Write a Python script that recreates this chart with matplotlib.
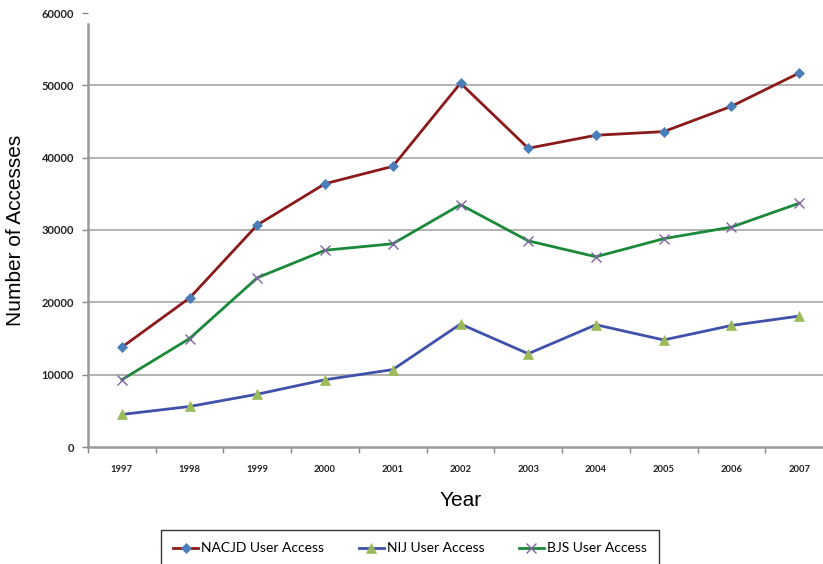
import numpy as np
import matplotlib as mpl
import matplotlib.pyplot as plt

mpl.use("Agg")

DPI = 100

years = ['1997', '1998', '1999', '2000', '2001', '2002',
         '2003', '2004', '2005', '2006', '2007']

nacjd = [13800, 20600, 30700, 36400, 38800, 50300,
         41300, 43100, 43600, 47100, 51700]
nij = [4500, 5600, 7300, 9300, 10700, 17000,
       12900, 16900, 14800, 16800, 18100]
bjs = [9300, 15000, 23400, 27200, 28100, 33500,
       28500, 26300, 28800, 30400, 33700]

y_ticks = [0, 10000, 20000, 30000, 40000, 50000, 60000]

SERIES = [
    {'label': 'NACJD User Access', 'values': nacjd, 'color': '#8b1a1a',
     'marker': 'D', 'mfc': '#4a7ebb', 'mec': '#4a7ebb', 'ms': 5.5, 'mew': 0.5},
    {'label': 'NIJ User Access', 'values': nij, 'color': '#3f51aa',
     'marker': '^', 'mfc': '#9bbb59', 'mec': '#9bbb59', 'ms': 7, 'mew': 0.5},
    {'label': 'BJS User Access', 'values': bjs, 'color': '#1a8a3a',
     'marker': 'x', 'mfc': '#8064a2', 'mec': '#8064a2', 'ms': 7, 'mew': 1.0},
]

fig = plt.figure(figsize=(823 / DPI, 564 / DPI), dpi=DPI)
ax = fig.add_axes([88 / 823, 1 - 447 / 564, 745 / 823, 434 / 564])

x = np.arange(len(years))

# horizontal grid (not at 0 nor at the top)
for yv in y_ticks[1:-1]:
    ax.axhline(yv, color='#a6a6a6', lw=1.2, zorder=1)

handles = []
for s in SERIES:
    h, = ax.plot(x, s['values'], color=s['color'], lw=2.0,
                 marker=s['marker'], markerfacecolor=s['mfc'],
                 markeredgecolor=s['mec'], markersize=s['ms'],
                 markeredgewidth=s['mew'], label=s['label'], zorder=3)
    handles.append(h)

ax.set_xlim(-0.5, len(years) - 0.5)
ax.set_ylim(0, 60000)

ax.set_yticks(y_ticks)
ax.set_yticklabels([str(v) for v in y_ticks])
ax.set_xticks(x)
ax.set_xticklabels(years)
ax.set_xticks(np.arange(len(years) + 1) - 0.5, minor=True)

ax.tick_params(axis='y', length=4, width=1, color='#888888', pad=6,
               labelsize=8, labelcolor='#222222')
ax.tick_params(axis='x', which='major', length=0, pad=13,
               labelsize=6.8, labelcolor='#222222')
ax.tick_params(axis='x', which='minor', length=4, width=1, color='#888888')
for lab in ax.get_xticklabels() + ax.get_yticklabels():
    lab.set_fontfamily('Lato')
    lab.set_fontweight('bold')

for side in ['top', 'right']:
    ax.spines[side].set_visible(False)
for side in ['left', 'bottom']:
    ax.spines[side].set_color('#999999')
    ax.spines[side].set_linewidth(1.8)
ax.spines['left'].set_bounds(0, 58500)

ax.set_ylabel('Number of Accesses', fontsize=15, family='Liberation Sans')
ax.set_xlabel('Year', fontsize=15, family='Liberation Sans', labelpad=12)
ax.yaxis.set_label_coords((25 - 88) / 745, 0.5)

leg = fig.legend(handles=handles, loc='upper center', ncol=3,
                 bbox_to_anchor=(410 / 823, 1 - 530 / 564),
                 frameon=True, fancybox=False, edgecolor='black',
                 prop={'family': 'Lato', 'size': 10},
                 handlelength=1.8, handletextpad=0.2, columnspacing=2.5,
                 borderpad=0.9, borderaxespad=0)
leg.get_frame().set_linewidth(1.0)

fig.savefig('out.png', dpi=DPI)
